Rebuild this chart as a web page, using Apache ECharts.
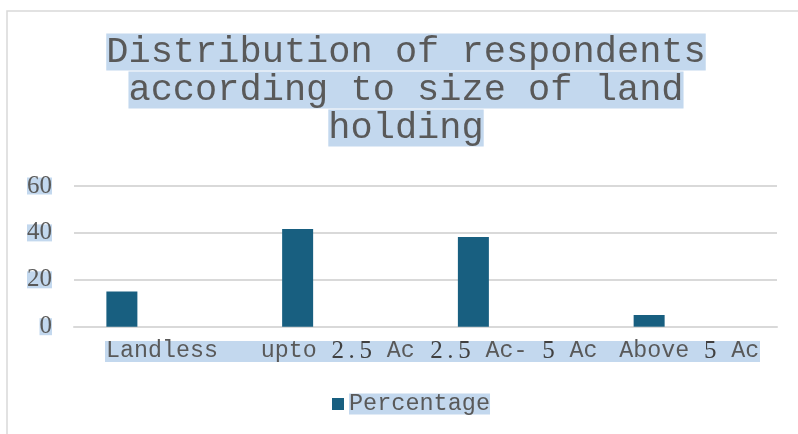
<!DOCTYPE html>
<html>
<head>
<meta charset="utf-8">
<script src="https://cdn.jsdelivr.net/npm/echarts@6/dist/echarts.min.js"></script>
<style>html,body{margin:0;padding:0;background:#fff;}#c{width:798px;height:434px;}</style>
</head>
<body>
<div id="c"></div>
<script>
var titleLines = ['Distribution of respondents', 'according to size of land', 'holding'];
var categories = ['Landless', 'upto 2.5 Ac', '2.5 Ac- 5 Ac', 'Above 5 Ac'];
var percentage = [15, 41.7, 38.3, 5];
var emptySeries = [null, null, null, null];
var yMin = 0, yMax = 60, yStep = 20;

var HL = '#c3d8ee';
var TXT = '#595959';
var MONO = '"Courier New", "Nimbus Mono PS", "FreeMono", "Liberation Mono", monospace';

function fmtLabel(v) {
  return v.split('').map(function (ch) {
    return /[0-9.]/.test(ch) ? '{n|' + ch + '}' : '{m|' + ch + '}';
  }).join('');
}

var chart = echarts.init(document.getElementById('c'), null, {renderer: 'canvas'});
chart.setOption({
  animation: false,
  backgroundColor: '#fff',
  title: {
    text: titleLines.map(function (l) { return '{t|' + l + '}'; }).join('\n'),
    left: 406,
    textAlign: 'center',
    top: 33,
    padding: 0,
    textStyle: {
      fontWeight: 'normal',
      rich: {
        t: {fontFamily: MONO, fontWeight: 'normal', fontSize: 37, lineHeight: 38, color: TXT, backgroundColor: HL}
      }
    }
  },
  graphic: [
    {type: 'rect', z: -10, shape: {x: 7, y: 11, width: 900, height: 500}, style: {fill: 'none', stroke: '#d9d9d9', lineWidth: 1.5}},
    {type: 'rect', z: -10, shape: {x: 105, y: 341, width: 655, height: 21}, style: {fill: HL}}
  ],
  legend: {
    data: ['Percentage'],
    left: 332,
    top: 392,
    padding: 0,
    itemWidth: 12,
    itemHeight: 12,
    icon: 'rect',
    textStyle: {fontFamily: MONO, fontSize: 23.5, lineHeight: 21, color: TXT, backgroundColor: HL}
  },
  grid: {left: 74, right: 21, top: 186, bottom: 107.3, containLabel: false},
  xAxis: {
    type: 'category',
    data: categories,
    axisTick: {show: false},
    axisLine: {lineStyle: {color: '#d9d9d9', width: 2}},
    axisLabel: {
      interval: 0,
      margin: 14,
      formatter: fmtLabel,
      rich: {
        m: {fontFamily: MONO, fontSize: 23.3, lineHeight: 21, color: TXT, width: 14, align: 'center'},
        n: {fontFamily: 'Liberation Serif', fontSize: 25, lineHeight: 21, color: '#404040', width: 14, align: 'center'}
      }
    }
  },
  yAxis: {
    type: 'value',
    min: yMin,
    max: yMax,
    interval: yStep,
    axisLine: {show: false},
    axisTick: {show: false},
    splitLine: {lineStyle: {color: '#d9d9d9', width: 2}},
    axisLabel: {
      margin: 22,
      fontFamily: 'Liberation Serif',
      fontSize: 25,
      lineHeight: 17,
      color: TXT,
      backgroundColor: HL
    }
  },
  series: [
    {name: 'Percentage', type: 'bar', data: percentage, barWidth: 31, barGap: '158%', itemStyle: {color: '#185f80'}},
    {name: 'Other', type: 'bar', data: emptySeries, barWidth: 31, itemStyle: {color: '#cccccc'}}
  ]
});
</script>
</body>
</html>
